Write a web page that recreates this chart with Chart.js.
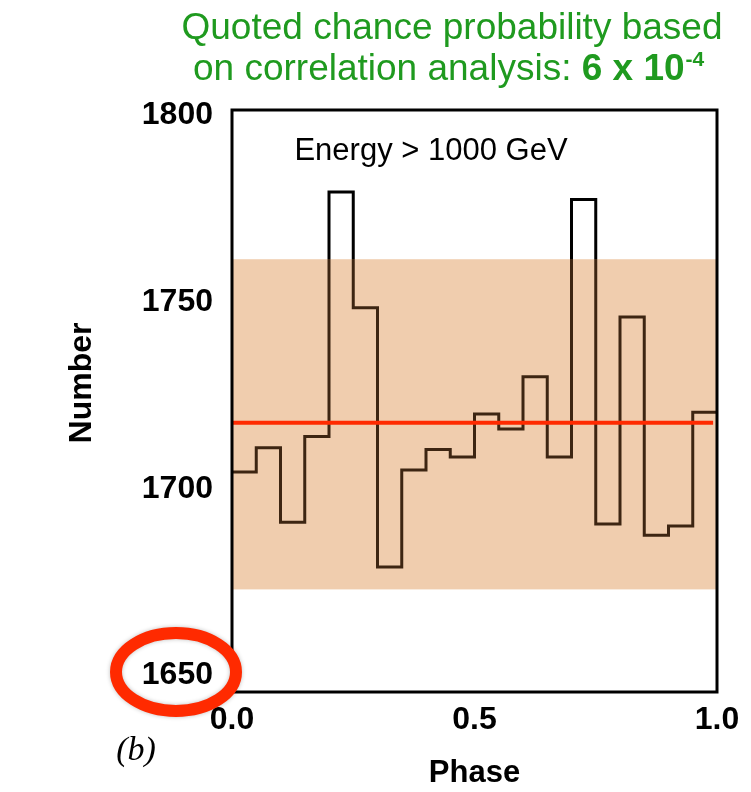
<!DOCTYPE html>
<html>
<head>
<meta charset="utf-8">
<script src="https://cdn.jsdelivr.net/npm/chart.js@4"></script>
<style>
  body { margin: 0; background: #fff; }
  #wrap { width: 751px; height: 792px; position: relative; }
</style>
</head>
<body>
<div id="wrap"><canvas id="phaseChart"></canvas></div>
<script>
// DATA
var phaseBins = [0.00, 0.05, 0.10, 0.15, 0.20, 0.25, 0.30, 0.35, 0.40, 0.45,
                 0.50, 0.55, 0.60, 0.65, 0.70, 0.75, 0.80, 0.85, 0.90, 0.95];
var lastEdge = 1.0;
var counts = [1704.5, 1711, 1691, 1714, 1779.5, 1748.5, 1679, 1705, 1710.5, 1708.5,
              1720, 1716, 1730, 1708.5, 1777.5, 1690.5, 1746, 1687.5, 1690, 1720.5];
var yTicks = [1650, 1700, 1750, 1800];
var xTicks = [0.0, 0.5, 1.0];
var meanLevel = 1717.7;
var meanSpan = [0, 0.992];
var bandRange = [1673, 1761.5];

var FONT = '"Liberation Sans", Arial, Helvetica, sans-serif';
var GREEN = "#1f9a1f";
var RED = "#ff2a00";

// histogram points, closed at the last edge
var histPoints = phaseBins.map(function (p, i) {
  return { x: p, y: counts[i] };
});
histPoints.push({ x: lastEdge, y: counts[counts.length - 1] });

// line colour: black, dark brown where it runs under the band
function histColor(c) {
  var chart = c.chart;
  var area = chart.chartArea;
  if (!area) return "#000";
  var y = chart.scales.y;
  var h = area.bottom - area.top;
  var f1 = (y.getPixelForValue(bandRange[1]) - area.top) / h;
  var f2 = (y.getPixelForValue(bandRange[0]) - area.top) / h;
  var g = chart.ctx.createLinearGradient(0, area.top, 0, area.bottom);
  g.addColorStop(0, "#000");
  g.addColorStop(f1, "#000");
  g.addColorStop(f1, "#3d2512");
  g.addColorStop(f2, "#3d2512");
  g.addColorStop(f2, "#000");
  g.addColorStop(1, "#000");
  return g;
}

var decor = {
  id: "decor",
  beforeDatasetsDraw: function (chart) {
    var ctx = chart.ctx, a = chart.chartArea, y = chart.scales.y;
    var top = y.getPixelForValue(bandRange[1]);
    var bot = y.getPixelForValue(bandRange[0]);
    ctx.save();
    ctx.fillStyle = "#f0cdae";
    ctx.fillRect(a.left, top, a.right - a.left, bot - top);
    ctx.restore();
  },
  afterDatasetsDraw: function (chart) {
    var ctx = chart.ctx, a = chart.chartArea;
    ctx.save();
    ctx.strokeStyle = "#000";
    ctx.lineWidth = 3;
    ctx.strokeRect(a.left, a.top, a.right - a.left, a.bottom - a.top);
    ctx.restore();
  },
  afterDraw: function (chart) {
    var ctx = chart.ctx;
    ctx.save();

    // green note
    ctx.fillStyle = GREEN;
    ctx.textBaseline = "alphabetic";
    ctx.textAlign = "center";
    ctx.font = "37px " + FONT;
    ctx.fillText("Quoted chance probability based", 452, 39);
    ctx.textAlign = "left";
    var x = 193;
    var part1 = "on correlation analysis: ";
    ctx.fillText(part1, x, 80);
    x += ctx.measureText(part1).width;
    ctx.font = "bold 37px " + FONT;
    ctx.fillText("6 x 10", x, 80);
    x += ctx.measureText("6 x 10").width;
    ctx.font = "bold 21px " + FONT;
    ctx.fillText("-4", x + 1, 66);

    // label inside plot
    ctx.fillStyle = "#000";
    ctx.textAlign = "center";
    ctx.font = "31px " + FONT;
    ctx.fillText("Energy > 1000 GeV", 431, 160);

    // panel tag
    ctx.font = 'italic 34px "Liberation Serif", serif';
    ctx.fillText("(b)", 136, 760);

    // y axis title
    ctx.save();
    ctx.translate(82, 383);
    ctx.rotate(-Math.PI / 2);
    ctx.textBaseline = "middle";
    ctx.font = "bold 32px " + FONT;
    ctx.fillText("Number", 0, 0);
    ctx.restore();

    // red ellipse round the lowest tick
    ctx.strokeStyle = RED;
    ctx.lineWidth = 12;
    ctx.shadowColor = "rgba(0,0,0,0.25)";
    ctx.shadowBlur = 4;
    ctx.beginPath();
    ctx.ellipse(176, 672, 60, 39, 0, 0, Math.PI * 2);
    ctx.stroke();
    ctx.restore();
  }
};

new Chart("phaseChart", {
  type: "line",
  data: {
    datasets: [
      {
        data: [{ x: meanSpan[0], y: meanLevel }, { x: meanSpan[1], y: meanLevel }],
        borderColor: RED,
        borderWidth: 4,
        pointRadius: 0,
        fill: false,
      },
      {
        data: histPoints,
        stepped: "before",
        borderColor: histColor,
        borderWidth: 3,
        pointRadius: 0,
        fill: false,
      },
    ],
  },
  options: {
    responsive: true,
    maintainAspectRatio: false,
    animation: false,
    layout: { padding: { top: 110, right: 34, left: 0, bottom: 0 } },
    plugins: { legend: { display: false }, tooltip: { enabled: false } },
    scales: {
      x: {
        type: "linear",
        min: 0,
        max: 1,
        grid: { display: false, drawTicks: false },
        border: { display: false },
        afterBuildTicks: function (s) {
          s.ticks = xTicks.map(function (v) { return { value: v }; });
        },
        afterFit: function (s) { s.height = 100; },
        ticks: {
          padding: 9,
          maxRotation: 0,
          color: "#000",
          font: { family: FONT, size: 32, weight: "bold" },
          callback: function (v) { return v.toFixed(1); },
        },
        title: {
          display: true,
          text: "Phase",
          color: "#000",
          font: { family: FONT, size: 31, weight: "bold" },
          padding: { top: 8, bottom: 0 },
        },
      },
      y: {
        type: "linear",
        min: 1645.5,
        max: 1801.5,
        grid: { display: false, drawTicks: false },
        border: { display: false },
        afterBuildTicks: function (s) {
          s.ticks = yTicks.map(function (v) { return { value: v }; });
        },
        afterFit: function (s) { s.width = 232; },
        ticks: {
          padding: 19,
          color: "#000",
          font: { family: FONT, size: 32, weight: "bold" },
          callback: function (v) { return String(v); },
        },
      },
    },
  },
  plugins: [decor],
});
</script>
</body>
</html>
